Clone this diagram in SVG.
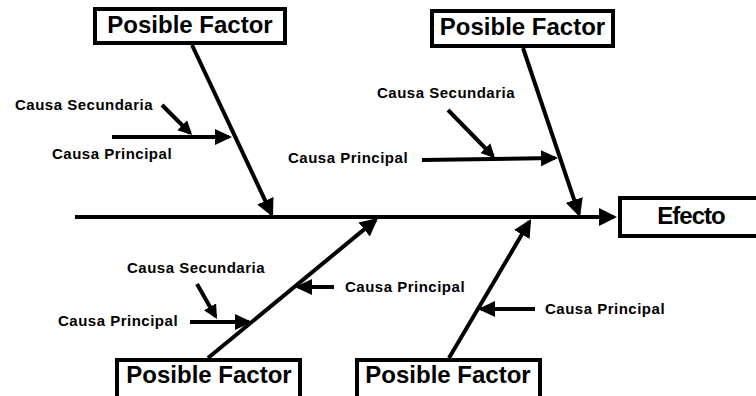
<svg xmlns="http://www.w3.org/2000/svg" width="756" height="396" viewBox="0 0 756 396">
  <style>
    .box { fill: #ffffff; stroke: #000000; stroke-width: 4; }
    .title { font-family: "Liberation Sans", Arial, sans-serif; font-weight: bold; font-size: 24px; fill: #000000; text-anchor: middle; }
    .lbl { font-family: "Liberation Sans", Arial, sans-serif; font-weight: bold; font-size: 15px; letter-spacing: 0.5px; fill: #000000; }
    .bone { stroke: #000000; stroke-width: 4; fill: none; marker-end: url(#big); }
    .sub { stroke: #000000; stroke-width: 4; fill: none; marker-end: url(#mid); }
    .sec { stroke: #000000; stroke-width: 4; fill: none; marker-end: url(#small); }
  </style>
  <defs>
    <marker id="big" markerUnits="userSpaceOnUse" markerWidth="20" markerHeight="20" refX="15" refY="9" orient="auto">
      <path d="M0,0 L18,9 L0,18 Z" fill="#000000"/>
    </marker>
    <marker id="mid" markerUnits="userSpaceOnUse" markerWidth="20" markerHeight="18" refX="14" refY="8" orient="auto">
      <path d="M0,0 L17,8 L0,16 Z" fill="#000000"/>
    </marker>
    <marker id="small" markerUnits="userSpaceOnUse" markerWidth="16" markerHeight="16" refX="11" refY="7" orient="auto">
      <path d="M0,0 L14,7 L0,14 Z" fill="#000000"/>
    </marker>
  </defs>
  <rect width="756" height="396" fill="#ffffff"/>

  <g id="connectors">
    <line class="bone" x1="75" y1="217" x2="614" y2="217"/>
    <line class="bone" x1="192" y1="45" x2="271.7" y2="214.3"/>
    <line class="bone" x1="523" y1="48" x2="579" y2="214.2"/>
    <line class="bone" x1="208" y1="358" x2="375.7" y2="219.9"/>
    <line class="bone" x1="449" y1="358" x2="529.5" y2="221.6"/>

    <line class="sub" x1="112" y1="137" x2="229" y2="137"/>
    <line class="sec" x1="162" y1="105" x2="190" y2="133"/>
    <line class="sub" x1="422" y1="160" x2="555" y2="158"/>
    <line class="sec" x1="448" y1="110" x2="493" y2="156"/>
    <line class="sub" x1="190" y1="322" x2="249" y2="322"/>
    <line class="sec" x1="197" y1="284" x2="215.5" y2="316.4"/>
    <line class="sub" x1="334" y1="287" x2="298" y2="287"/>
    <line class="sub" x1="535" y1="309" x2="481" y2="309"/>
  </g>

  <g id="factor-top-left">
    <rect class="box" x="95" y="9" width="190" height="34"/>
    <text class="title" x="190" y="33">Posible Factor</text>
  </g>
  <g id="factor-top-right">
    <rect class="box" x="432" y="11" width="181" height="35"/>
    <text class="title" x="522.5" y="35">Posible Factor</text>
  </g>
  <g id="efecto">
    <rect class="box" x="620" y="198" width="150" height="38"/>
    <text class="title" x="691" y="224" style="letter-spacing:-1px">Efecto</text>
  </g>
  <g id="factor-bottom-left">
    <rect class="box" x="117" y="360" width="183" height="50"/>
    <text class="title" x="209" y="383">Posible Factor</text>
  </g>
  <g id="factor-bottom-right">
    <rect class="box" x="357" y="360" width="183" height="50"/>
    <text class="title" x="448" y="383">Posible Factor</text>
  </g>

  <g id="labels">
    <text class="lbl" x="15" y="110">Causa Secundaria</text>
    <text class="lbl" x="52" y="159">Causa Principal</text>
    <text class="lbl" x="377" y="98">Causa Secundaria</text>
    <text class="lbl" x="288" y="163">Causa Principal</text>
    <text class="lbl" x="127" y="273">Causa Secundaria</text>
    <text class="lbl" x="58" y="326">Causa Principal</text>
    <text class="lbl" x="345" y="292">Causa Principal</text>
    <text class="lbl" x="545" y="314">Causa Principal</text>
  </g>
</svg>
